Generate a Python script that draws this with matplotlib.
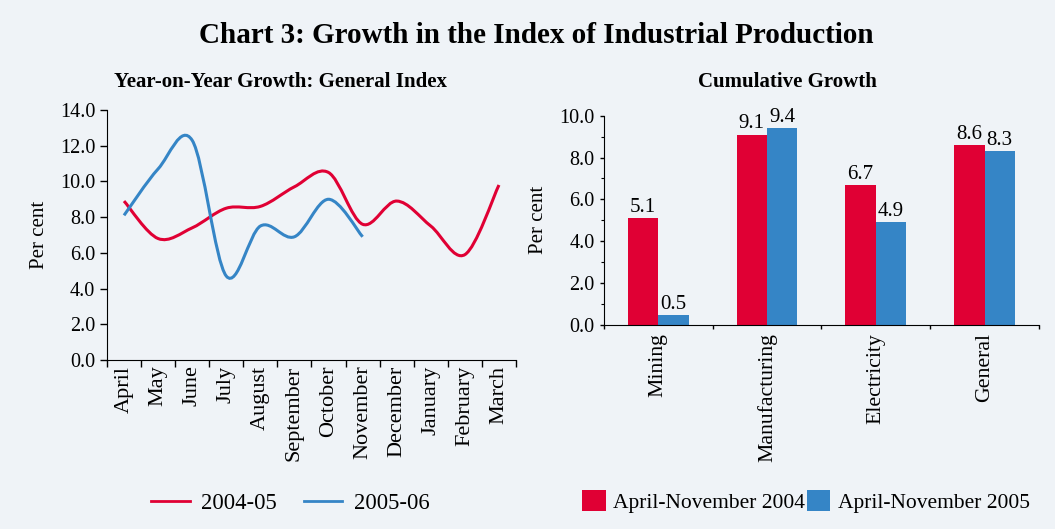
import numpy as np
import matplotlib
matplotlib.use("Agg")
import matplotlib.pyplot as plt
from matplotlib.path import Path
from matplotlib.patches import PathPatch
from matplotlib.lines import Line2D

plt.rcParams['font.family'] = ['Liberation Serif', 'DejaVu Serif']

# data
months = ['April', 'May', 'June', 'July', 'August', 'September', 'October',
          'November', 'December', 'January', 'February', 'March']
growth_0405 = [8.9, 6.8, 7.4, 8.5, 8.6, 9.7, 10.5, 7.6, 8.9, 7.5, 5.9, 9.8]
growth_0506 = [8.1, 10.7, 12.3, 4.7, 7.5, 6.9, 9.0, 6.9]

sectors = ['Mining', 'Manufacturing', 'Electricity', 'General']
cum_2004 = [5.1, 9.1, 6.7, 8.6]
cum_2005 = [0.5, 9.4, 4.9, 8.3]

RED = '#E00034'
BLUE = '#3585C6'
BG = '#EFF3F7'


def smooth_path(xs, ys):
    # catmull-rom turned into cubic bezier segments
    pts = np.column_stack([xs, ys]).astype(float)
    n = len(pts)
    verts = [pts[0]]
    codes = [Path.MOVETO]
    for i in range(n - 1):
        p0 = pts[i - 1] if i > 0 else pts[i]
        p1 = pts[i]
        p2 = pts[i + 1]
        p3 = pts[i + 2] if i + 2 < n else pts[i + 1]
        c1 = p1 + (p2 - p0) / 6.0
        c2 = p2 - (p3 - p1) / 6.0
        verts += [c1, c2, p2]
        codes += [Path.CURVE4] * 3
    return Path(verts, codes)


fig = plt.figure(figsize=(10.55, 5.29), dpi=100, facecolor=BG)

fig.text(0.508, 0.933, 'Chart 3: Growth in the Index of Industrial Production',
         ha='center', va='center', fontsize=21, fontweight='bold')
fig.text(0.266, 0.845, 'Year-on-Year Growth: General Index',
         ha='center', va='center', fontsize=15, fontweight='bold')
fig.text(0.746, 0.845, 'Cumulative Growth',
         ha='center', va='center', fontsize=15, fontweight='bold')

# left: line chart
ax1 = fig.add_axes([0.1014, 0.3195, 0.3877, 0.4726])
ax1.set_facecolor(BG)
x1 = np.arange(len(months))
ax1.add_patch(PathPatch(smooth_path(x1, growth_0405), fill=False,
                        edgecolor=RED, lw=2.2, capstyle='butt'))
ax1.add_patch(PathPatch(smooth_path(x1[:len(growth_0506)], growth_0506),
                        fill=False, edgecolor=BLUE, lw=2.2, capstyle='butt'))
ax1.set_xlim(-0.5, len(months) - 0.5)
ax1.set_ylim(0, 14)
ax1.set_yticks(np.arange(0, 14.1, 2))
ax1.set_yticklabels([f'{v:.1f}' for v in np.arange(0, 14.1, 2)], fontsize=14.5)
ax1.set_xticks(np.arange(-0.5, len(months), 1))
ax1.set_xticklabels([])
ax1.set_xticks(x1, minor=True)
ax1.set_xticklabels(months, minor=True, rotation=90, fontsize=16)
ax1.tick_params(axis='x', which='minor', length=0, pad=4)
ax1.tick_params(axis='both', which='major', length=5, width=1, direction='out')
ax1.set_ylabel('Per cent', fontsize=15, labelpad=8)
for s in ['top', 'right']:
    ax1.spines[s].set_visible(False)
ax1.legend(handles=[Line2D([], [], color=RED, lw=2, label='2004-05'),
                    Line2D([], [], color=BLUE, lw=2, label='2005-06')],
           loc='center', bbox_to_anchor=(0.275, 0.049), bbox_transform=fig.transFigure,
           ncol=2, frameon=False, fontsize=16.3, handlelength=1.7,
           columnspacing=1.2, handletextpad=0.5)

# right: bar chart
ax2 = fig.add_axes([0.5723, 0.3856, 0.4125, 0.3957])
ax2.set_facecolor(BG)
x2 = np.arange(len(sectors))
w = 0.28
b1 = ax2.bar(x2 - w / 2, cum_2004, width=w, color=RED, label='April-November 2004')
b2 = ax2.bar(x2 + w / 2, cum_2005, width=w, color=BLUE, label='April-November 2005')
for bars, vals in [(b1, cum_2004), (b2, cum_2005)]:
    for r, v in zip(bars, vals):
        ax2.text(r.get_x() + r.get_width() / 2, v + 0.05, f'{v:.1f}',
                 ha='center', va='bottom', fontsize=15)
ax2.set_xlim(-0.5, len(sectors) - 0.5)
ax2.set_ylim(0, 10)
ax2.set_yticks(np.arange(0, 10.1, 2))
ax2.set_yticklabels([f'{v:.1f}' for v in np.arange(0, 10.1, 2)], fontsize=14.5)
ax2.set_yticks(np.arange(0, 10.1, 1), minor=True)
ax2.set_xticks(np.arange(-0.5, len(sectors), 1))
ax2.set_xticklabels([])
ax2.set_xticks(x2, minor=True)
ax2.set_xticklabels(sectors, minor=True, rotation=90, fontsize=15.7)
ax2.tick_params(axis='x', which='minor', length=0, pad=6)
ax2.tick_params(axis='both', which='major', length=3, width=1, direction='out')
ax2.tick_params(axis='y', which='minor', length=2, width=0.8)
ax2.set_ylabel('Per cent', fontsize=15, labelpad=8)
for s in ['top', 'right']:
    ax2.spines[s].set_visible(False)
ax2.legend(loc='center', bbox_to_anchor=(0.764, 0.052), bbox_transform=fig.transFigure,
           ncol=2, frameon=False, fontsize=15.5, handlelength=1.07, handleheight=1.1,
           columnspacing=0.05, handletextpad=0.37)

fig.savefig('out.png', dpi=100, facecolor=BG)
